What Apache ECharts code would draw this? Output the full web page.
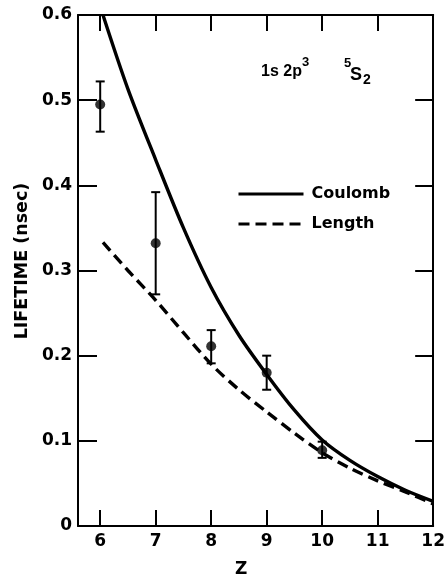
<!DOCTYPE html>
<html>
<head>
<meta charset="utf-8">
<script src="https://cdn.jsdelivr.net/npm/echarts@6/dist/echarts.min.js"></script>
<style>
  html, body { margin: 0; padding: 0; background: #fff; }
  #chart { width: 448px; height: 579px; }
</style>
</head>
<body>
<div id="chart"></div>
<script>
// measured points with error bars
var zExp = [6, 7, 8, 9, 10];
var lifeExp = [0.495, 0.332, 0.211, 0.180, 0.089];
var errLow = [0.463, 0.272, 0.191, 0.160, 0.080];
var errHigh = [0.522, 0.392, 0.230, 0.200, 0.099];

// theory curves
var zCalc = [6.05, 6.5, 7, 7.5, 8, 8.5, 9, 9.5, 10, 10.5, 11, 11.5, 12];
var coulomb = [0.600, 0.513, 0.430, 0.350, 0.280, 0.224, 0.178, 0.136, 0.101, 0.077, 0.058, 0.042, 0.029];
var lengthVals = [0.333, 0.300, 0.265, 0.227, 0.190, 0.160, 0.134, 0.109, 0.086, 0.068, 0.053, 0.040, 0.026];

var xTicks = [6, 7, 8, 9, 10, 11, 12];

var FONT = "DejaVu Sans";
var TFONT = "Liberation Sans";

function pairs(xs, ys) {
    var out = [];
    for (var i = 0; i < xs.length; i++) {
        out.push([xs[i], ys[i]]);
    }
    return out;
}

function txt(x, y, s, size, family) {
    return {
        type: "text", x: x, y: y,
        style: { text: s, fill: "#000", fontSize: size, fontWeight: "bold", fontFamily: family }
    };
}

var errData = [];
for (var i = 0; i < zExp.length; i++) {
    errData.push([zExp[i], errLow[i], errHigh[i]]);
}

var chart = echarts.init(document.getElementById("chart"), null, { renderer: "canvas" });

var option = {
    backgroundColor: "#fff",
    animation: false,
    grid: { left: 78, right: 12, top: 15, bottom: 53 },
    xAxis: [
        {
            type: "value", min: 5.6, max: 12, position: "bottom",
            axisLine: { lineStyle: { color: "#000", width: 2 } },
            axisTick: { inside: true, length: 16, customValues: xTicks, lineStyle: { color: "#000", width: 2 } },
            axisLabel: { customValues: xTicks, margin: 7, color: "#000", fontFamily: FONT, fontWeight: "bold", fontSize: 17 },
            splitLine: { show: false }
        },
        {
            type: "value", min: 5.6, max: 12, position: "top",
            axisLine: { onZero: false, lineStyle: { color: "#000", width: 2 } },
            axisTick: { inside: true, length: 16, customValues: xTicks, lineStyle: { color: "#000", width: 2 } },
            axisLabel: { show: false },
            splitLine: { show: false }
        }
    ],
    yAxis: [
        {
            type: "value", min: 0, max: 0.6, interval: 0.1, position: "left",
            axisLine: { show: true, lineStyle: { color: "#000", width: 2 } },
            axisTick: { show: true, inside: true, length: 19, lineStyle: { color: "#000", width: 2 } },
            axisLabel: { margin: 6, color: "#000", fontFamily: FONT, fontWeight: "bold", fontSize: 17 },
            splitLine: { show: false }
        },
        {
            type: "value", min: 0, max: 0.6, interval: 0.1, position: "right",
            axisLine: { show: true, onZero: false, lineStyle: { color: "#000", width: 2 } },
            axisTick: { show: true, inside: true, length: 18, lineStyle: { color: "#000", width: 2 } },
            axisLabel: { show: false },
            splitLine: { show: false }
        }
    ],
    legend: {
        orient: "vertical",
        left: 237, top: 186,
        itemWidth: 65, itemHeight: 14, itemGap: 14,
        padding: 0,
        data: ["Coulomb", "Length"],
        itemStyle: { color: "rgba(0,0,0,0)", borderWidth: 0 },
        lineStyle: { width: 3 },
        textStyle: { color: "#000", fontFamily: FONT, fontWeight: "bold", fontSize: 16, padding: [0, 0, 0, 3] }
    },
    series: [
        {
            name: "Coulomb", type: "line", symbol: "none", smooth: 0.3,
            data: pairs(zCalc, coulomb),
            lineStyle: { color: "#000", width: 3.4 },
            itemStyle: { color: "#000" }
        },
        {
            name: "Length", type: "line", symbol: "none", smooth: 0.3,
            data: pairs(zCalc, lengthVals),
            lineStyle: { color: "#000", width: 3.4, type: [11, 6] },
            itemStyle: { color: "#000" }
        },
        {
            name: "err", type: "custom",
            data: errData,
            renderItem: function (params, api) {
                var x = api.value(0);
                var lo = api.coord([x, api.value(1)]);
                var hi = api.coord([x, api.value(2)]);
                var cw = 4.5;
                var st = { stroke: "#000", lineWidth: 2 };
                return {
                    type: "group",
                    children: [
                        { type: "line", shape: { x1: lo[0], y1: lo[1], x2: hi[0], y2: hi[1] }, style: st },
                        { type: "line", shape: { x1: lo[0] - cw, y1: lo[1], x2: lo[0] + cw, y2: lo[1] }, style: st },
                        { type: "line", shape: { x1: hi[0] - cw, y1: hi[1], x2: hi[0] + cw, y2: hi[1] }, style: st }
                    ]
                };
            },
            z: 3
        },
        {
            name: "exp", type: "scatter", symbol: "circle", symbolSize: 10,
            data: pairs(zExp, lifeExp),
            itemStyle: { color: "#000" },
            z: 4
        }
    ],
    graphic: [
        txt(235, 561, "Z", 17, FONT),
        {
            type: "text", x: 22, y: 261, rotation: Math.PI / 2,
            style: { text: "LIFETIME (nsec)", fill: "#000", fontSize: 17.5, fontWeight: "bold", fontFamily: FONT, align: "center", verticalAlign: "middle" }
        },
        txt(261, 64, "1s 2p", 16, TFONT),
        txt(302, 56, "3", 13, TFONT),
        txt(344, 57, "5", 13, TFONT),
        txt(350, 66, "S", 18, TFONT),
        txt(363, 73, "2", 14, TFONT)
    ]
};

chart.setOption(option);
</script>
</body>
</html>
